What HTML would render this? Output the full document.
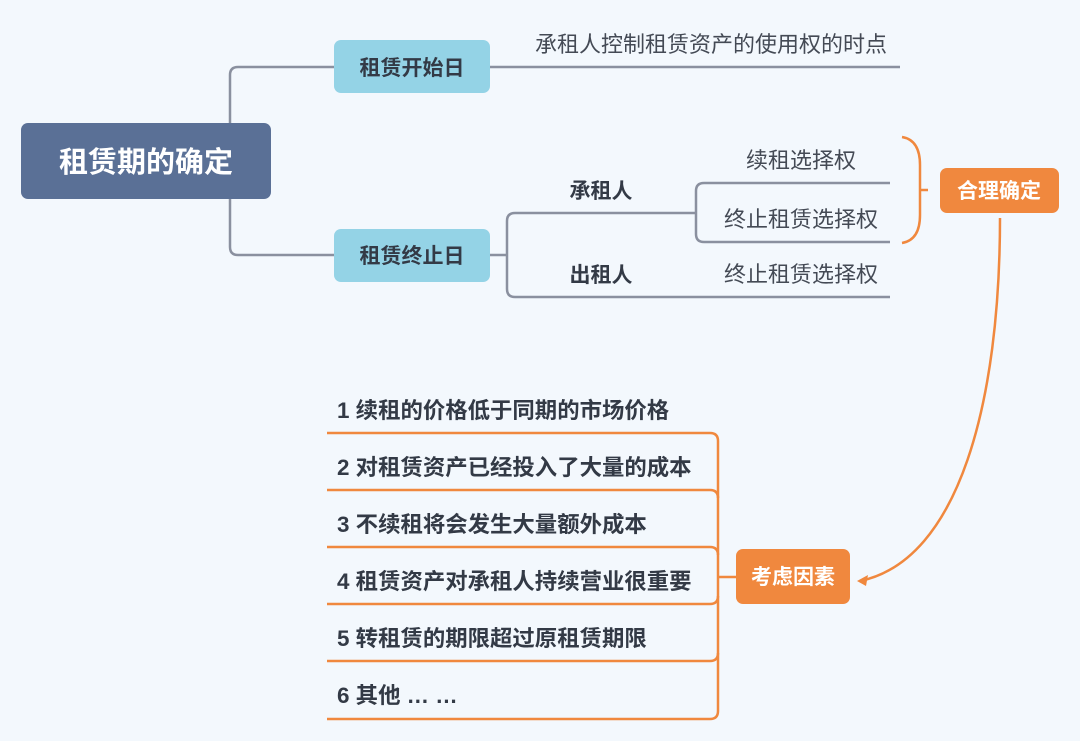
<!DOCTYPE html>
<html><head><meta charset="utf-8"><style>
html,body{margin:0;padding:0;background:#f3f8fd}
svg{display:block}
text{font-family:"Liberation Sans","Noto Sans CJK SC",sans-serif}
.b{font-weight:bold;fill:#333a46;font-size:21px}
.i{font-weight:bold;fill:#333a46;font-size:22.4px}
.n{fill:#444a55;font-size:22px}
</style></head><body>
<svg width="1080" height="741" viewBox="0 0 1080 741" xmlns="http://www.w3.org/2000/svg">
<rect width="1080" height="741" fill="#f3f8fd"/>
<g fill="none" stroke="#8a909f" stroke-width="2.5">
<path d="M334 67 H238 Q230 67 230 75 V123"/>
<path d="M334 255 H238 Q230 255 230 247 V199"/>
<path d="M490 67 H900"/>
<path d="M490 255 H507"/>
<path d="M696 213 H515 Q507 213 507 221 V289 Q507 297 515 297 H890"/>
<path d="M890 183 H704 Q696 183 696 191 V234 Q696 242 704 242 H890"/>
</g>
<rect x="21" y="123" width="250" height="76" rx="7" fill="#5a7096"/>
<text x="146" y="172" text-anchor="middle" fill="#fff" font-size="29" font-weight="bold">租赁期的确定</text>
<rect x="334" y="40" width="156" height="53" rx="7" fill="#94d3e6"/>
<text x="412" y="75" text-anchor="middle" class="b">租赁开始日</text>
<rect x="334" y="229" width="156" height="53" rx="7" fill="#94d3e6"/>
<text x="412" y="263" text-anchor="middle" class="b">租赁终止日</text>
<text x="711" y="52" text-anchor="middle" class="n">承租人控制租赁资产的使用权的时点</text>
<text x="601" y="198" text-anchor="middle" class="b">承租人</text>
<text x="601" y="282" text-anchor="middle" class="b">出租人</text>
<text x="801" y="168" text-anchor="middle" class="n">续租选择权</text>
<text x="801" y="227" text-anchor="middle" class="n">终止租赁选择权</text>
<text x="801" y="282" text-anchor="middle" class="n">终止租赁选择权</text>
<g fill="none" stroke="#f0883e" stroke-width="2.5">
<path d="M902 137 Q920 140 920 165 V215 Q920 240 902 243"/>
<path d="M920 190 H928"/>
<path d="M1000 218 C1000 400 960 560 860 581"/>
<path d="M736 577 H718"/>
<path d="M327 433 H710 Q718 433 718 441 V711 Q718 719 710 719 H327"/>
<path d="M327 490 H710 Q718 490 718 498"/>
<path d="M327 547 H710 Q718 547 718 555"/>
<path d="M327 604 H710 Q718 604 718 596"/>
<path d="M327 661 H710 Q718 661 718 653"/>
</g>
<path d="M857 581 L868 575 L866 586 Z" fill="#f0883e"/>
<rect x="940" y="168" width="119" height="45" rx="7" fill="#f0883e"/>
<text x="999" y="198" text-anchor="middle" fill="#fff" font-size="21" font-weight="bold">合理确定</text>
<rect x="736" y="549" width="114" height="55" rx="7" fill="#f0883e"/>
<text x="793" y="584" text-anchor="middle" fill="#fff" font-size="21" font-weight="bold">考虑因素</text>
<text x="337" y="418" class="i">1 续租的价格低于同期的市场价格</text>
<text x="337" y="475" class="i">2 对租赁资产已经投入了大量的成本</text>
<text x="337" y="532" class="i">3 不续租将会发生大量额外成本</text>
<text x="337" y="589" class="i">4 租赁资产对承租人持续营业很重要</text>
<text x="337" y="646" class="i">5 转租赁的期限超过原租赁期限</text>
<text x="337" y="703" class="i">6 其他 … …</text>
</svg>
</body></html>
